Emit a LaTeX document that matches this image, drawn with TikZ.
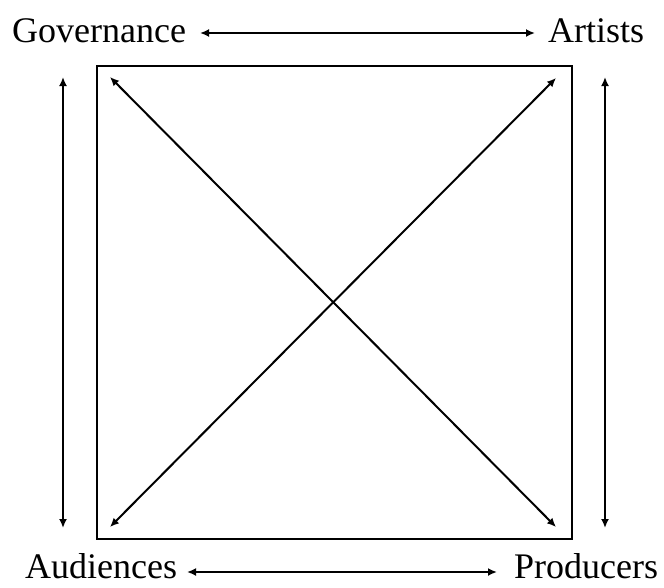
\documentclass[tikz,border=0pt]{standalone}
\usepackage{fontspec}
\setmainfont{Liberation Serif}
\usepackage{tikz}
\usetikzlibrary{arrows.meta,positioning,calc}
\tikzset{
  actor/.style={inner sep=0pt,anchor=base west,font=\fontsize{36}{40}\selectfont},
  frame/.style={draw=black,line width=1.2pt},
  bothflow/.style={{Latex[length=9pt,width=8pt]}-{Latex[length=9pt,width=8pt]},line width=2pt,draw=black}
}
\begin{document}
\begin{tikzpicture}[x=1pt,y=-1pt]
  \useasboundingbox (0,0) rectangle (664,587);
  % the four actors
  \node[actor] (governance) at (12,42) {Governance};
  \node[actor] (artists) at (548,42) {Artists};
  \node[actor] (audiences) at (25,578) {Audiences};
  \node[actor] (producers) at (514,578) {Producers};

  % square in the middle
  \draw[frame] (97,66) rectangle (572,539);

  % arrow ends
  \coordinate (govR) at (200,33);
  \coordinate (artL) at (535,33);
  \coordinate (audR) at (187,572);
  \coordinate (proL) at (497,572);
  \coordinate (leftT) at (63,77);
  \coordinate (leftB) at (63,528);
  \coordinate (rightT) at (605,77);
  \coordinate (rightB) at (605,528);
  \coordinate (tl) at (110,77);
  \coordinate (tr) at (556,78);
  \coordinate (bl) at (110,527);
  \coordinate (br) at (556,527);

  \draw[bothflow] (govR) -- (artL);
  \draw[bothflow] (audR) -- (proL);
  \draw[bothflow] (leftT) -- (leftB);
  \draw[bothflow] (rightT) -- (rightB);
  \draw[bothflow] (tl) -- (br);
  \draw[bothflow] (tr) -- (bl);
\end{tikzpicture}
\end{document}
